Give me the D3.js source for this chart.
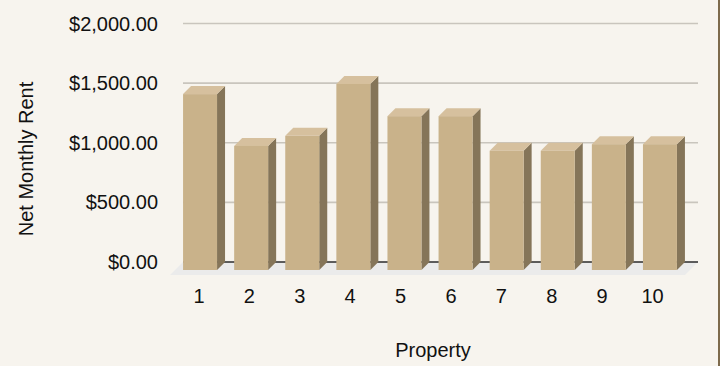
<!DOCTYPE html>
<html><head><meta charset="utf-8">
<script src="https://cdn.jsdelivr.net/npm/d3@7"></script>
<style>
html,body{margin:0;padding:0;background:#f7f4ee;}
svg{display:block;font-family:"Liberation Sans",Arial,sans-serif;}
</style></head>
<body>
<script>
const categories = ["1","2","3","4","5","6","7","8","9","10"];
const rentValues = [1475, 1040, 1125, 1560, 1290, 1290, 1000, 1000, 1055, 1055];
const yTicks = [0, 500, 1000, 1500, 2000];
const yTitle = "Net Monthly Rent";
const xTitle = "Property";

const W = 720, H = 366;
const svg = d3.select("body").append("svg").attr("width", W).attr("height", H);
svg.append("rect").attr("width", W).attr("height", H).attr("fill", "#f7f4ee");
svg.append("rect").attr("x", 718).attr("y", 0).attr("width", 2).attr("height", H).attr("fill", "#7d6a4c");

// back wall
const wallX0 = 183, wallX1 = 698;
const y = d3.scaleLinear().domain([0, 2000]).range([262, 23.5]);
const depth = 8;       // bar depth
const floorDepth = 13; // floor depth

// gridlines
svg.append("g").selectAll("line").data(yTicks.filter(d => d > 0)).join("line")
  .attr("x1", wallX0).attr("x2", wallX1)
  .attr("y1", d => y(d)).attr("y2", d => y(d))
  .attr("stroke", "#c9c5bd").attr("stroke-width", 1.6);

// floor
svg.append("path")
  .attr("d", `M${wallX0},${y(0)} L${wallX1},${y(0)} L${wallX1 - floorDepth},${y(0) + floorDepth} L${wallX0 - floorDepth},${y(0) + floorDepth} Z`)
  .attr("fill", "#ebebeb");
svg.append("line").attr("x1", wallX0).attr("x2", wallX1)
  .attr("y1", y(0)).attr("y2", y(0)).attr("stroke", "#2b2b2b").attr("stroke-width", 1.5);

// y tick labels
svg.append("g").selectAll("text").data(yTicks).join("text")
  .attr("x", 158).attr("y", d => y(d)).attr("dy", "0.35em")
  .attr("text-anchor", "end").attr("font-size", 20).attr("fill", "#111")
  .text(d => d3.format("$,.2f")(d));

// bars (front plane shifted by -depth in x, +depth in y relative to back)
const x = d3.scaleBand().domain(categories).range([174.5, 685.5])
  .paddingInner(0.335).paddingOuter(0.1675);
const yF = v => y(v) + depth;
const g = svg.append("g");
categories.forEach((c, i) => {
  const v = rentValues[i];
  const x0 = x(c), x1 = x0 + x.bandwidth();
  const top = yF(v), bot = yF(0);
  // side
  g.append("path")
    .attr("d", `M${x1},${top} L${x1 + depth},${top - depth} L${x1 + depth},${bot - depth} L${x1},${bot} Z`)
    .attr("fill", "#857559");
  // top
  g.append("path")
    .attr("d", `M${x0},${top} L${x0 + depth},${top - depth} L${x1 + depth},${top - depth} L${x1},${top} Z`)
    .attr("fill", "#d6c09e");
  // front
  g.append("rect").attr("x", x0).attr("y", top).attr("width", x.bandwidth()).attr("height", bot - top)
    .attr("fill", "#c9b28a");
});

// x labels
const xl = d3.scalePoint().domain(categories).range([199, 652.5]);
svg.append("g").selectAll("text").data(categories).join("text")
  .attr("x", d => xl(d)).attr("y", 303)
  .attr("text-anchor", "middle").attr("font-size", 20).attr("fill", "#111")
  .text(d => d);

// titles
svg.append("text").attr("x", 433).attr("y", 357).attr("text-anchor", "middle")
  .attr("font-size", 20).attr("fill", "#111").text(xTitle);
svg.append("text").attr("transform", "translate(33,159) rotate(-90)")
  .attr("text-anchor", "middle").attr("font-size", 20).attr("fill", "#111").text(yTitle);
</script>
</body></html>
